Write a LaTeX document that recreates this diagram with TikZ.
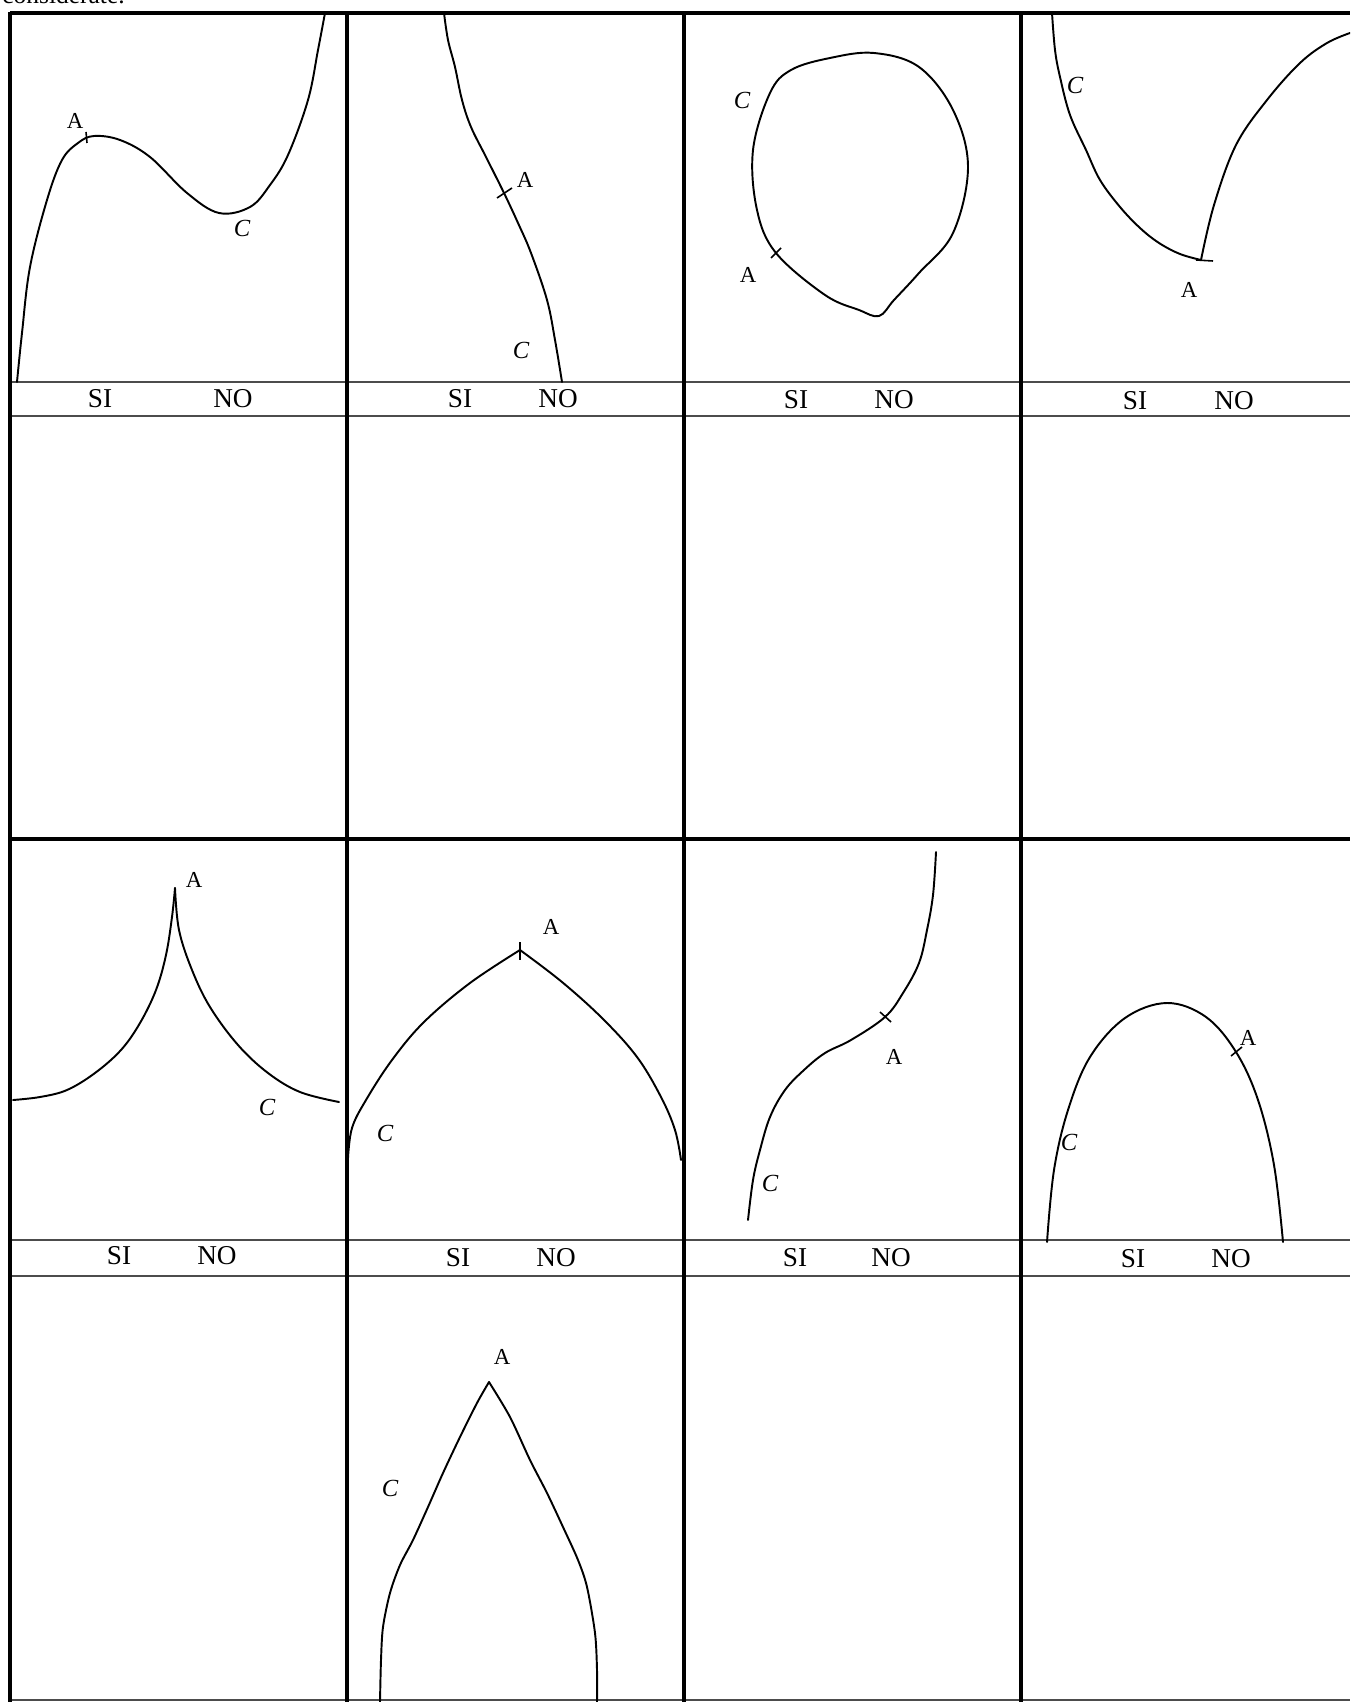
\documentclass[tikz,border=0pt]{standalone}
\usepackage{fontspec}
\setmainfont{Liberation Serif}
\begin{document}
\begin{tikzpicture}[x=0.02cm,y=-0.02cm,
  gridline/.style={line width=2pt,black},
  bandline/.style={line width=1.1pt,black!70},
  crv/.style={line width=1.1pt,black,line cap=round,line join=round},
  tickmark/.style={line width=0.9pt,black},
  lblA/.style={font=\fontsize{13}{15}\selectfont,inner sep=0pt},
  lblC/.style={font=\fontsize{14}{16}\itshape\selectfont,inner sep=0pt},
  yn/.style={font=\fontsize{15.5}{17}\selectfont,inner sep=0pt},
  toptext/.style={font=\fontsize{14.5}{16}\selectfont,inner sep=0pt,anchor=base west}]
\useasboundingbox (0,0) rectangle (1350,1702);
\clip (0,0) rectangle (1350,1702);
\fill[white] (0,0) rectangle (1350,1702);

% cropped heading text
\node[toptext] (head) at (2,4) {considerate.};

% grid
\draw[gridline] (10,13) -- (1350,13);
\draw[gridline] (10,839) -- (1350,839);
\draw[bandline] (10,382) -- (1350,382);
\draw[bandline] (10,416) -- (1350,416);
\draw[bandline] (10,1240) -- (1350,1240);
\draw[bandline] (10,1276) -- (1350,1276);
\draw[bandline] (10,1700) -- (1350,1700);
\draw[gridline] (10,12) -- (10,1702);
\draw[gridline] (347,12) -- (347,1702);
\draw[gridline] (684,12) -- (684,1702);
\draw[gridline] (1021,12) -- (1021,1702);

% SI / NO labels
\node[yn] (si1) at (100,399) {SI};  \node[yn] (no1) at (233,399) {NO};
\node[yn] (si2) at (460,399) {SI};  \node[yn] (no2) at (558,399) {NO};
\node[yn] (si3) at (796,400) {SI};  \node[yn] (no3) at (894,400) {NO};
\node[yn] (si4) at (1135,401) {SI}; \node[yn] (no4) at (1234,401) {NO};
\node[yn] (si5) at (119,1256) {SI}; \node[yn] (no5) at (217,1256) {NO};
\node[yn] (si6) at (458,1258) {SI}; \node[yn] (no6) at (556,1258) {NO};
\node[yn] (si7) at (795,1258) {SI}; \node[yn] (no7) at (891,1258) {NO};
\node[yn] (si8) at (1133,1259) {SI};\node[yn] (no8) at (1231,1259) {NO};

% Panel 1
\draw[crv] plot[smooth,tension=0.6] coordinates {(17,382) (22,333) (30,267) (47,200) (62,160) (78,143) (94,136) (120,140) (150,157) (187,193) (219,213) (250,207) (270,185) (288,155) (308,100) (318,50) (325,13)};
\draw[tickmark] (86,132) -- (87,143);
\node[lblA] (a1) at (75,121) {A};
\node[lblC] (c1) at (242,228) {C};

% Panel 2
\draw[crv] plot[smooth,tension=0.6] coordinates {(444,13) (448,40) (455,67) (462,100) (471,127) (486,157) (504,193) (518,223) (531,253) (547,300) (555,340) (562,382)};
\draw[tickmark] (497,198) -- (512,188);
\node[lblA] (a2) at (525,180) {A};
\node[lblC] (c2) at (521,350) {C};

% Panel 3
\draw[crv] plot[smooth cycle,tension=0.6] coordinates {(874,53) (919,67) (953,110) (968,167) (953,233) (919,273) (894,300) (879,316) (859,310) (825,295) (776,253) (757,210) (753,150) (770,93) (791,70) (830,58)};
\draw[tickmark] (771,258) -- (781,248);
\node[lblC] (c3) at (742,100) {C};
\node[lblA] (a3) at (748,275) {A};

% Panel 4
\draw[crv] plot[smooth,tension=0.6] coordinates {(1052,13) (1055,50) (1060,77) (1070,115) (1086,150) (1100,180) (1120,207) (1140,228) (1159,243) (1180,254) (1201,260)};
\draw[crv] plot[smooth,tension=0.6] coordinates {(1201,260) (1214,205) (1236,145) (1267,100) (1300,63) (1327,43) (1350,33)};
\draw[tickmark] (1196,260) -- (1213,261);
\node[lblC] (c4) at (1075,85) {C};
\node[lblA] (a4) at (1189,290) {A};

% Panel 5
\draw[crv] plot[smooth,tension=0.6] coordinates {(13,1100) (40,1097) (67,1090) (95,1073) (121,1050) (140,1023) (156,990) (166,955) (172,917) (175,888)};
\draw[crv] plot[smooth,tension=0.6] coordinates {(175,888) (179,930) (192,970) (210,1007) (238,1045) (268,1073) (300,1092) (339,1102)};
\node[lblA] (a5) at (194,880) {A};
\node[lblC] (c5) at (267,1107) {C};

% Panel 6
\draw[crv] plot[smooth,tension=0.6] coordinates {(348,1158) (352,1128) (366,1100) (392,1060) (424,1022) (470,983) (520,950)};
\draw[crv] plot[smooth,tension=0.6] coordinates {(520,950) (562,982) (603,1019) (637,1057) (661,1097) (675,1130) (681,1160)};
\draw[tickmark] (520,942) -- (520,960);
\node[lblA] (a6) at (551,927) {A};
\node[lblC] (c6) at (385,1133) {C};

% Panel 7
\draw[crv] plot[smooth,tension=0.6] coordinates {(936,852) (933,895) (927,930) (919,963) (903,993) (885,1017) (851,1040) (825,1053) (804,1070) (785,1090) (770,1117) (760,1150) (753,1180) (748,1220)};
\draw[tickmark] (880,1012) -- (891,1022);
\node[lblA] (a7) at (894,1057) {A};
\node[lblC] (c7) at (770,1183) {C};

% Panel 8
\draw[crv] plot[smooth,tension=0.6] coordinates {(1047,1242) (1054,1170) (1068,1110) (1090,1057) (1125,1018) (1167,1003) (1206,1017) (1236,1052) (1258,1100) (1274,1165) (1283,1242)};
\draw[tickmark] (1231,1056) -- (1242,1047);
\node[lblA] (a8) at (1248,1038) {A};
\node[lblC] (c8) at (1069,1142) {C};

% Panel 10
\draw[crv] plot[smooth,tension=0.5] coordinates {(380,1702) (381,1660) (383,1627) (390,1593) (400,1565) (413,1540) (428,1507) (443,1473) (460,1437) (477,1403) (489,1382)};
\draw[crv] plot[smooth,tension=0.5] coordinates {(489,1382) (510,1417) (530,1460) (547,1493) (563,1527) (578,1560) (587,1587) (595,1633) (597,1670) (597,1702)};
\node[lblA] (a10) at (502,1357) {A};
\node[lblC] (c10) at (390,1488) {C};
\end{tikzpicture}
\end{document}
